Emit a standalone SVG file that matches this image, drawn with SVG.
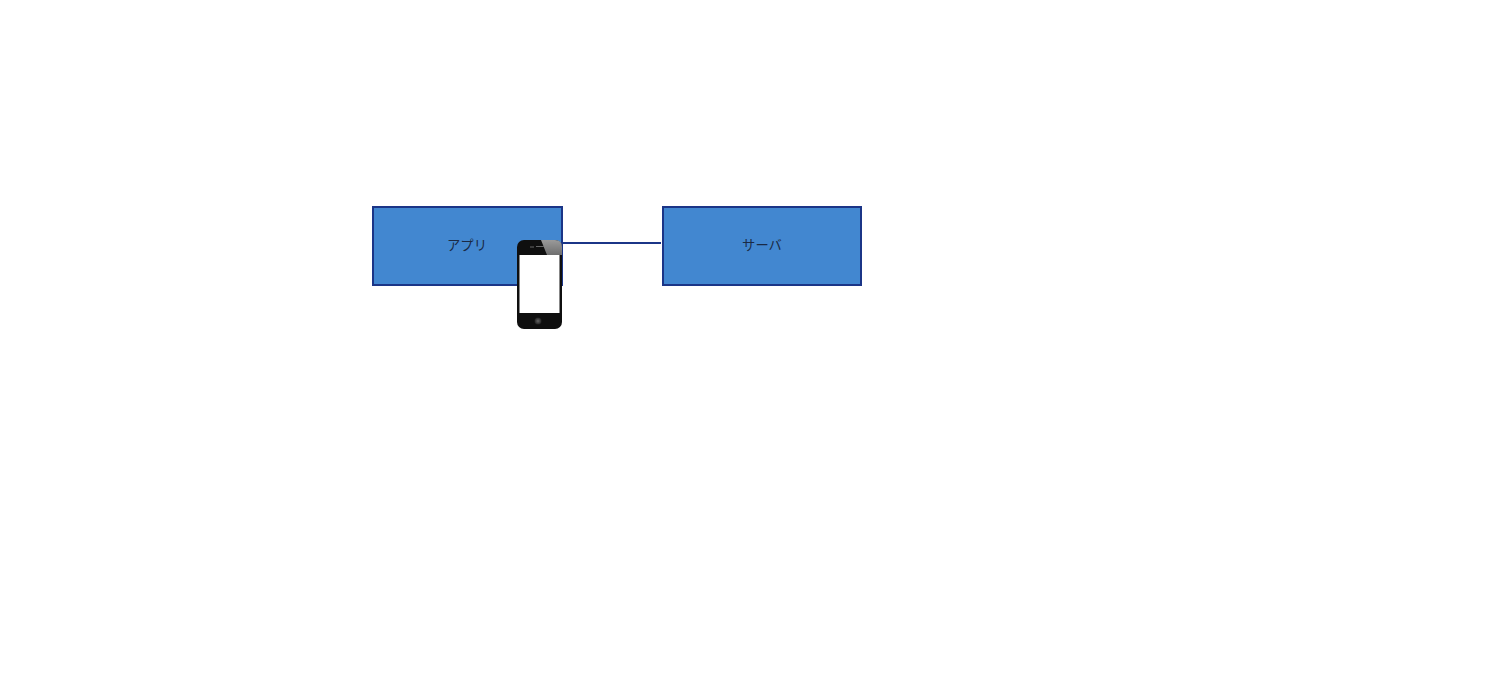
<svg xmlns="http://www.w3.org/2000/svg" width="1485" height="695" viewBox="0 0 1485 695">
<defs>
<linearGradient id="gloss" x1="0" y1="0" x2="0" y2="1"><stop offset="0" stop-color="#9a9a9a"/><stop offset="1" stop-color="#6e6e6e"/></linearGradient>
<radialGradient id="btn"><stop offset="0" stop-color="#666"/><stop offset="1" stop-color="#222"/></radialGradient>
</defs>
<style>
.box{fill:#4287d0;stroke:#1b3587;stroke-width:2}
.lbl{font-family:"Noto Sans CJK JP","Liberation Sans",sans-serif;font-size:13.300px;font-weight:400;fill:#1a2a45;text-anchor:middle}
.conn{stroke:#1b3587;stroke-width:2;fill:none}
</style>
<rect width="1485" height="695" fill="#fff"/>
<g id="connectors"><path class="conn" d="M562 243H661"/></g>
<g id="app"><rect class="box" x="373" y="207" width="189" height="78"/><text class="lbl" x="467" y="250">アプリ</text></g>
<g id="server"><rect class="box" x="663" y="207" width="198" height="78"/><text class="lbl" x="762" y="250">サーバ</text></g>
<g id="phone">
<rect x="517" y="240" width="45" height="89" rx="7" fill="#0f0f0f"/>
<path d="M541 240H555Q562 240 562 247V255H547Z" fill="url(#gloss)"/>
<rect x="519.500" y="255" width="40" height="58" fill="#fff"/>
<path d="M530 247H534M536 246.500H544" stroke="#666" stroke-width="1"/>
<circle cx="538" cy="321" r="3.500" fill="url(#btn)"/>
</g>
</svg>
